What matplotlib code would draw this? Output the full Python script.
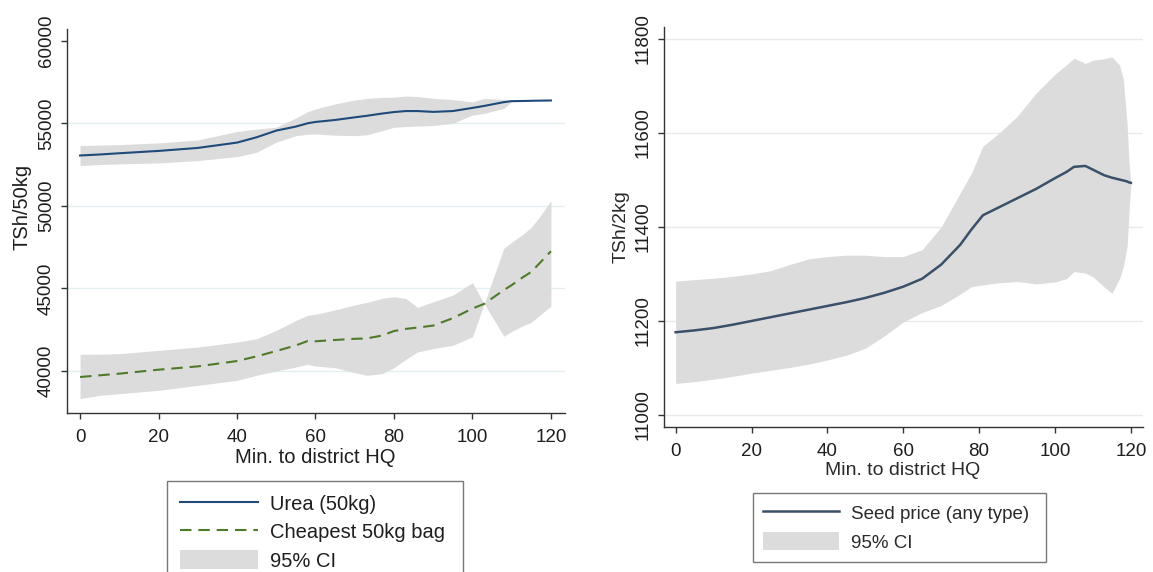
import matplotlib
matplotlib.use("Agg")
import matplotlib.pyplot as plt

plt.rcParams['font.family'] = ['Liberation Sans', 'DejaVu Sans']

# -----------------------------
# Left panel: fertilizer prices
# -----------------------------
x_left = [0, 5, 10, 20, 30, 40, 45, 50, 55, 58, 60, 65, 70, 73, 77, 80, 83, 86,
          90, 95, 100, 103, 108, 110, 113, 115, 117, 120]

urea = [53050, 53110, 53185, 53326, 53507, 53830, 54152, 54556, 54800, 55000,
        55080, 55200, 55360, 55450, 55590, 55680, 55740, 55740, 55690, 55740,
        55930, 56050, 56280, 56340, 56350, 56360, 56370, 56380]
urea_hi = [53650, 53680, 53710, 53810, 53990, 54500, 54650, 54760, 55320, 55700,
           55865, 56170, 56410, 56500, 56570, 56580, 56650, 56620, 56510, 56430,
           56300, 56500, 56450, 56380, 56360, 56360, 56370, 56380]
urea_lo = [52440, 52500, 52540, 52600, 52740, 52980, 53245, 53850, 54250, 54330,
           54350, 54280, 54250, 54300, 54550, 54757, 54800, 54830, 54860, 55000,
           55500, 55600, 55900, 56300, 56340, 56360, 56370, 56380]

cheap = [39637, 39740, 39840, 40080, 40280, 40605, 40887, 41210, 41550, 41815,
         41800, 41880, 41950, 41970, 42150, 42420, 42550, 42630, 42750, 43200,
         43780, 44070, 44900, 45200, 45700, 46000, 46500, 47250]
cheap_hi = [41010, 41020, 41050, 41250, 41450, 41750, 41955, 42460, 43060, 43370,
            43430, 43700, 44000, 44150, 44400, 44500, 44400, 43850, 44190, 44594,
            45343, 44070, 47430, 47800, 48300, 48700, 49300, 50320]
cheap_lo = [38330, 38530, 38630, 38830, 39130, 39435, 39740, 40000, 40240, 40400,
            40300, 40200, 39900, 39737, 39838, 40200, 40700, 41154, 41356, 41558,
            42064, 44070, 42105, 42400, 42760, 42950, 43350, 43927]

# -----------------------------
# Right panel: seed price
# -----------------------------
x_right = [0, 5, 10, 15, 20, 25, 30, 35, 40, 45, 50, 55, 60, 65, 70, 75, 78, 81,
           85, 90, 95, 100, 103, 105, 108, 110, 113, 115, 117, 118, 119, 119.5, 120]

seed = [11176, 11180, 11185, 11192, 11200, 11208, 11216, 11224, 11232, 11240,
        11249, 11260, 11273, 11290, 11320, 11362, 11395, 11425, 11441, 11461,
        11481, 11504, 11517, 11528, 11530, 11522, 11510, 11505, 11501, 11499,
        11497, 11495, 11494]
seed_hi = [11285, 11288, 11291, 11295, 11300, 11307, 11320, 11332, 11337, 11340,
           11340, 11337, 11337, 11352, 11400, 11472, 11515, 11572, 11598, 11635,
           11685, 11725, 11745, 11759, 11748, 11755, 11758, 11762, 11745, 11715,
           11620, 11540, 11494]
seed_lo = [11067, 11071, 11076, 11082, 11089, 11095, 11101, 11108, 11117, 11127,
           11142, 11168, 11198, 11218, 11233, 11257, 11273, 11277, 11281, 11284,
           11279, 11283, 11290, 11305, 11302, 11294, 11272, 11259, 11290, 11315,
           11358, 11430, 11494]

left_yticks = [40000, 45000, 50000, 55000, 60000]
right_yticks = [11000, 11200, 11400, 11600, 11800]
xticks = [0, 20, 40, 60, 80, 100, 120]

ci_color = '#dcdcdc'
text_color = '#1e1e1e'

fig = plt.figure(figsize=(11.53, 5.72), dpi=100)
ax1 = fig.add_axes([0.05785, 0.27867, 0.4322, 0.67063])
ax2 = fig.add_axes([0.57546, 0.25402, 0.41587, 0.69825])


def style_axis(ax, gridcolor, gridticks):
    for side in ['top', 'right']:
        ax.spines[side].set_visible(False)
    for side in ['left', 'bottom']:
        ax.spines[side].set_color('#333333')
        ax.spines[side].set_linewidth(1.0)
    ax.tick_params(direction='out', length=4.5, width=1.0, color='#333333',
                   labelsize=13.5, labelcolor=text_color, pad=4)
    ax.tick_params(axis='x', pad=7)
    ax.set_xticks(xticks)
    for t in ax.get_yticklabels():
        t.set_rotation(90)
        t.set_va('center')
    for g in gridticks:
        ax.axhline(g, color=gridcolor, lw=1.0, zorder=0)


# ---- left
ax1.fill_between(x_left, urea_lo, urea_hi, color=ci_color, lw=0, zorder=1)
ax1.fill_between(x_left, cheap_lo, cheap_hi, color=ci_color, lw=0, zorder=1)
l_urea, = ax1.plot(x_left, urea, color='#1f4a7a', lw=1.5, zorder=3)
l_cheap, = ax1.plot(x_left, cheap, color='#4f7a2a', lw=1.5,
                    linestyle=(0, (5.5, 3.3)), zorder=3)
ax1.set_xlim(-3.4, 123.6)
ax1.set_ylim(37482, 60708)
ax1.set_yticks(left_yticks)
style_axis(ax1, '#e2eef0', left_yticks[:-1])
ax1.set_xlabel('Min. to district HQ', fontsize=14.5, color=text_color)
ax1.set_ylabel('TSh/50kg', fontsize=14.5, color=text_color)
ax1.xaxis.set_label_coords(0.498, -0.092)
ax1.yaxis.set_label_coords(-0.070, 0.536)

ci_patch = plt.Rectangle((0, 0), 1, 1, color=ci_color, lw=0)
leg1 = ax1.legend([l_urea, l_cheap, ci_patch],
                  ['Urea (50kg)', 'Cheapest 50kg bag', '95% CI'],
                  loc='upper left', mode='expand',
                  bbox_to_anchor=(166.7 / 1153, 1 - 480.7 / 572 - 0.01,
                                  (463.3 - 166.7) / 1153, 0.01),
                  bbox_transform=fig.transFigure,
                  fontsize=14.5, handlelength=3.9, handleheight=1.1,
                  handletextpad=0.6, borderpad=0.65, labelspacing=0.38,
                  fancybox=False, frameon=True, borderaxespad=0)
leg1.get_frame().set_edgecolor('#555555')
leg1.get_frame().set_linewidth(1.0)
for t in leg1.get_texts():
    t.set_color(text_color)

# ---- right
ax2.fill_between(x_right, seed_lo, seed_hi, color=ci_color, lw=0, zorder=1)
l_seed, = ax2.plot(x_right, seed, color='#3a5068', lw=1.8, zorder=3)
ax2.set_xlim(-3.2, 123.2)
ax2.set_ylim(10975, 11825)
ax2.set_yticks(right_yticks)
style_axis(ax2, '#e9e9e9', right_yticks)
ax2.set_xlabel('Min. to district HQ', fontsize=14, color='#2a2a2a')
ax2.set_ylabel('TSh/2kg', fontsize=14, color='#2a2a2a')
ax2.xaxis.set_label_coords(0.4995, -0.088)
ax2.yaxis.set_label_coords(-0.071, 0.5)

ci_patch2 = plt.Rectangle((0, 0), 1, 1, color=ci_color, lw=0)
leg2 = ax2.legend([l_seed, ci_patch2], ['Seed price (any type)', '95% CI'],
                  loc='upper left', mode='expand',
                  bbox_to_anchor=(752.7 / 1153, 1 - 493.3 / 572 - 0.01,
                                  (1046 - 752.7) / 1153, 0.01),
                  bbox_transform=fig.transFigure,
                  fontsize=13.5, handlelength=4.05, handleheight=1.1,
                  handletextpad=0.62, borderpad=0.55, labelspacing=0.49,
                  fancybox=False, frameon=True, borderaxespad=0)
leg2.get_frame().set_edgecolor('#555555')
leg2.get_frame().set_linewidth(1.0)
for t in leg2.get_texts():
    t.set_color('#2a2a2a')

fig.savefig('out.png', dpi=100, facecolor='white')
